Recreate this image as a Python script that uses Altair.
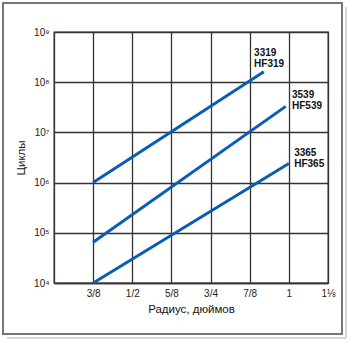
import altair as alt
import pandas as pd

# --- data ---
x_3319 = [0.375, 0.92]
y_3319 = [1e6, 1.62e8]

x_3539 = [0.375, 0.99]
y_3539 = [6.5e4, 3.3e7]

x_3365 = [0.375, 1.0]
y_3365 = [1e4, 2.4e6]

series_names = ["3319\nHF319", "3539\nHF539", "3365\nHF365"]
label_x = [0.889, 1.010, 1.017]
label_y = [4.8e8, 6.9e7, 4.9e6]

x_ticks = [0.375, 0.5, 0.625, 0.75, 0.875, 1.0, 1.125]
x_tick_labels = ["3/8", "1/2", "5/8", "3/4", "7/8", "1", "1⅛"]
y_ticks = [1e4, 1e5, 1e6, 1e7, 1e8, 1e9]
y_tick_labels = ["10⁴", "10⁵", "10⁶", "10⁷", "10⁸", "10⁹"]

rows = []
for name, xs, ys in zip(series_names, [x_3319, x_3539, x_3365], [y_3319, y_3539, y_3365]):
    for xv, yv in zip(xs, ys):
        rows.append({"series": name, "r": xv, "c": yv})
df = pd.DataFrame(rows)
labels_df = pd.DataFrame({"text": series_names, "r": label_x, "c": label_y})


def label_expr(values, labels, tol):
    expr = f"'{labels[-1]}'"
    for v, l in reversed(list(zip(values[:-1], labels[:-1]))):
        expr = f"abs(datum.value-{v})<{tol}*{v}?'{l}':" + expr
    return expr


W, H = 274, 251
FONT = "Liberation Sans"

x_scale = alt.Scale(domain=[0.25, 1.125], nice=False, zero=False)
y_scale = alt.Scale(type="log", domain=[1e4, 1e9], nice=False)

common = dict(grid=True, gridColor="#333333", gridWidth=1.3, ticks=False,
              labelPadding=5, labelFontSize=10, labelColor="#222",
              titleFontSize=11.5, titleFontWeight="normal",
              domainColor="#333333", domainWidth=1.3,
              labelFont=FONT, titleFont=FONT, labelFlush=False, titleColor="#111")

x_axis = alt.Axis(values=x_ticks, labelExpr=label_expr(x_ticks, x_tick_labels, 0.01),
                  title="Радиус, дюймов", titlePadding=5, **common)
y_axis = alt.Axis(values=y_ticks, labelExpr=label_expr(y_ticks, y_tick_labels, 0.01),
                  title="Циклы", titlePadding=7, **common)

one = pd.DataFrame({"a": [0]})
shadow_right = alt.Chart(one).mark_rule(color="#c8c8c8", strokeWidth=1.5).encode(
    x=alt.value(292), y=alt.value(-25), y2=alt.value(306))
shadow_bottom = alt.Chart(one).mark_rule(color="#c8c8c8", strokeWidth=1.5).encode(
    x=alt.value(-47), x2=alt.value(292), y=alt.value(306))

frame = alt.Chart(one).mark_rect(
    fill=None, stroke="#777777", strokeWidth=2
).encode(x=alt.value(-51), x2=alt.value(288), y=alt.value(-29), y2=alt.value(302))

lines = alt.Chart(df).mark_line(color="#0b5db4", strokeWidth=3, clip=False).encode(
    x=alt.X("r:Q", scale=x_scale, axis=x_axis),
    y=alt.Y("c:Q", scale=y_scale, axis=y_axis),
    detail="series:N",
)

labels = alt.Chart(labels_df).mark_text(
    align="left", baseline="top", fontWeight="bold", fontSize=10, font=FONT,
    lineBreak="\n", lineHeight=11, color="#111"
).encode(
    x=alt.X("r:Q", scale=x_scale),
    y=alt.Y("c:Q", scale=y_scale),
    text="text:N",
)

chart = alt.layer(lines, labels, shadow_right, shadow_bottom, frame).properties(
    width=W, height=H,
    autosize=alt.AutoSizeParams(type="none"),
    padding={"left": 54, "top": 32, "right": 22, "bottom": 59},
    background="white",
).configure_view(stroke="#333333", strokeWidth=1.3)

chart.save("out.html", embed_options={"renderer": "svg", "actions": False})
